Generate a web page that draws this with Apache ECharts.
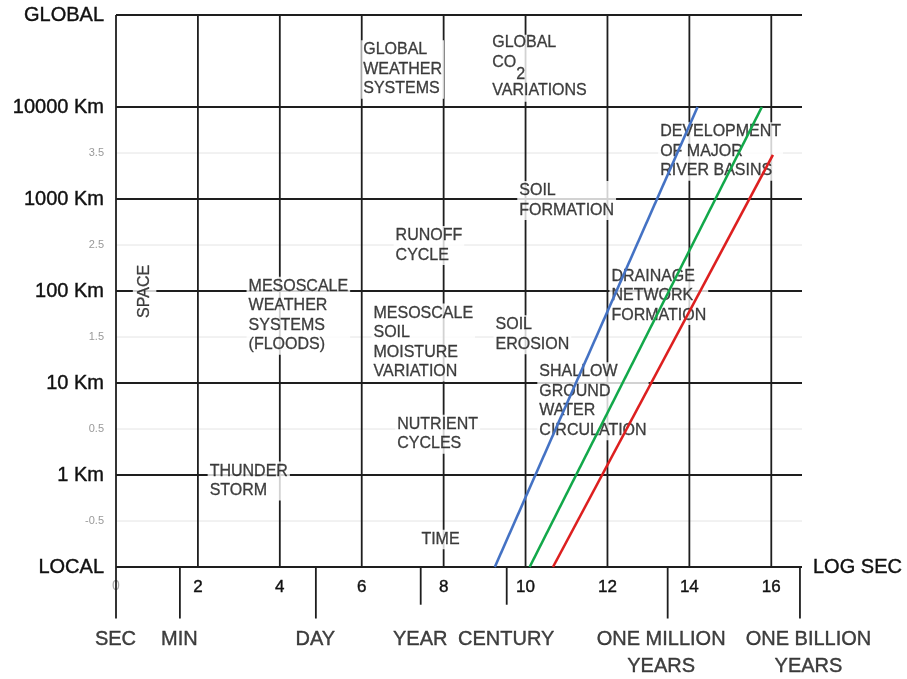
<!DOCTYPE html>
<html><head><meta charset="utf-8">
<script src="https://cdn.jsdelivr.net/npm/echarts@6/dist/echarts.min.js"></script>
<style>html,body{margin:0;padding:0;background:#fff}#c{width:907px;height:679px}</style>
</head><body><div id="c"></div>
<script>
// ---- data ----
const xMajorTicks = [0, 2, 4, 6, 8, 10, 12, 14, 16];
const yMajorTicks = [-1, 0, 1, 2, 3, 4, 5];
const yMajorLabels = ['LOCAL', '1 Km', '10 Km', '100 Km', '1000 Km', '10000 Km', 'GLOBAL'];
const yMinorTicks = [-0.5, 0.5, 1.5, 2.5, 3.5];
const timeMarkNames = ['SEC', 'MIN', 'DAY', 'YEAR', 'CENTURY', 'ONE MILLION\nYEARS', 'ONE BILLION\nYEARS'];
const timeMarkLogSec = [0, 1.56, 4.88, 7.44, 9.54, 13.47, 16.7];
const blueLine = [[9.25, -1], [14.2, 4]];
const greenLine = [[10.1, -1], [15.77, 4]];
const redLine = [[10.67, -1], [16.04, 3.48]];
const annotationX = [6.0, 9.15, 9.81, 13.25, 6.79, 0.71, 3.2, 6.25, 9.23, 10.3, 12.06, 6.83, 2.25, 7.42];
const annotationY = [4.72, 4.78, 3.19, 3.83, 2.70, 1.99, 2.15, 1.86, 1.73, 1.22, 2.26, 0.65, 0.14, -0.60];
const annotationText = [
  'GLOBAL\nWEATHER\nSYSTEMS',
  '{t|GLOBAL}\n{t|CO}{s|2}\n{t|VARIATIONS}',
  'SOIL\nFORMATION',
  'DEVELOPMENT\nOF MAJOR\nRIVER BASINS',
  'RUNOFF\nCYCLE',
  'SPACE',
  'MESOSCALE\nWEATHER\nSYSTEMS\n(FLOODS)',
  'MESOSCALE\nSOIL\nMOISTURE\nVARIATION',
  'SOIL\nEROSION',
  'SHALLOW\nGROUND\nWATER\nCIRCULATION',
  'DRAINAGE\nNETWORK\nFORMATION',
  'NUTRIENT\nCYCLES',
  'THUNDER\nSTORM',
  'TIME'
];

// ---- drawing ----
const FONT = "'Liberation Sans', Arial, Helvetica, sans-serif";
const X_MAX = 16.75, Y_MIN = -1, Y_MAX = 5;
const INK = '#1e1e1e';
const TXT = '#111';
const series = [];
function seg(pts, color, width, z) {
  return {type: 'line', data: pts, symbol: 'none', showSymbol: false, silent: true, clip: false,
    lineStyle: {color: color, width: width}, z: z, animation: false};
}
yMinorTicks.forEach(v => series.push(seg([[0, v], [X_MAX, v]], '#e4e4e4', 1, 1)));
xMajorTicks.forEach(v => series.push(seg([[v, Y_MIN], [v, Y_MAX]], INK, 1.8, 2)));
yMajorTicks.forEach(v => series.push(seg([[0, v], [X_MAX, v]], INK, 1.8, 2)));
const shortTicks = ['YEAR', 'CENTURY'];
timeMarkNames.forEach((n, i) => {
  const depth = shortTicks.indexOf(n) >= 0 ? -1.41 : -1.56;
  series.push(seg([[timeMarkLogSec[i], Y_MIN], [timeMarkLogSec[i], depth]], INK, 1.8, 2));
});
const labelOffsets = {'ONE MILLION\nYEARS': [-6, 0], 'ONE BILLION\nYEARS': [9, 0]};
series.push({
  type: 'scatter', symbolSize: 1, clip: false, silent: true, z: 3, animation: false,
  itemStyle: {color: 'rgba(0,0,0,0)'},
  data: timeMarkNames.map((n, i) => ({value: [timeMarkLogSec[i], -1.645], name: n,
    label: {offset: labelOffsets[n] || [0, 0]}})),
  label: {show: true, position: [0, 0], align: 'center', verticalAlign: 'top',
    formatter: p => p.name, fontSize: 20, lineHeight: 27, color: TXT, fontFamily: FONT,
    textBorderColor: TXT, textBorderWidth: 0.4}
});
const rot = {'SPACE': true};
series.push({
  type: 'scatter', symbolSize: 1, clip: false, silent: true, z: 3, animation: false,
  itemStyle: {color: 'rgba(0,0,0,0)'},
  data: annotationText.map((t, i) => {
    const d = {value: [annotationX[i], annotationY[i]], name: t};
    if (rot[t]) d.label = {rotate: 90, align: 'center', verticalAlign: 'middle', padding: [2, 2]};
    return d;
  }),
  label: {show: true, position: [0, 0], align: 'left', verticalAlign: 'top',
    formatter: p => p.name, fontSize: 16, lineHeight: 19.5, color: TXT, fontFamily: FONT,
    textBorderColor: TXT, textBorderWidth: 0.3,
    backgroundColor: '#fff', padding: [0, 2],
    rich: {
      t: {fontSize: 16, lineHeight: 19.5, color: TXT, fontFamily: FONT, verticalAlign: 'top',
          textBorderColor: TXT, textBorderWidth: 0.3},
      s: {fontSize: 16, lineHeight: 28, color: TXT, fontFamily: FONT, verticalAlign: 'bottom',
          textBorderColor: TXT, textBorderWidth: 0.3}
    }}
});
[[blueLine, '#4472C4'], [greenLine, '#12A84A'], [redLine, '#DD1F1F']].forEach(([d, c]) => {
  series.push(seg(d, c, 2.6, 6));
});

const chart = echarts.init(document.getElementById('c'), null, {renderer: 'canvas'});
chart.setOption({
  animation: false,
  backgroundColor: '#fff',
  grid: {left: 116, right: 105, top: 15, bottom: 112, containLabel: false, outerBoundsMode: 'none'},
  xAxis: {
    type: 'value', min: 0, max: X_MAX, interval: 2,
    axisLine: {show: false, onZero: false}, axisTick: {show: false}, splitLine: {show: false},
    axisLabel: {showMaxLabel: false, margin: 12,
      formatter: v => v === 0 ? '{z|0}' : '{n|' + v + '}',
      rich: {z: {fontSize: 14, color: '#aaa', fontFamily: FONT},
             n: {fontSize: 17, color: TXT, fontFamily: FONT, textBorderColor: TXT, textBorderWidth: 0.4}}},
    name: 'LOG SEC', nameLocation: 'end', nameGap: 11,
    nameTextStyle: {fontSize: 20, color: TXT, fontFamily: FONT, align: 'left', verticalAlign: 'middle',
      textBorderColor: TXT, textBorderWidth: 0.4}
  },
  yAxis: {
    type: 'value', min: Y_MIN, max: Y_MAX, interval: 0.5,
    axisLine: {show: false, onZero: false}, axisTick: {show: false}, splitLine: {show: false},
    axisLabel: {margin: 12,
      formatter: v => {
        const i = yMajorTicks.indexOf(v);
        if (i >= 0) return '{m|' + yMajorLabels[i] + '}';
        if (yMinorTicks.indexOf(v) >= 0) return '{s|' + v + '}';
        return '';
      },
      rich: {m: {fontSize: 20, color: TXT, fontFamily: FONT, textBorderColor: TXT, textBorderWidth: 0.4},
             s: {fontSize: 11, color: '#999', fontFamily: FONT}}}
  },
  series: series
});
</script></body></html>
